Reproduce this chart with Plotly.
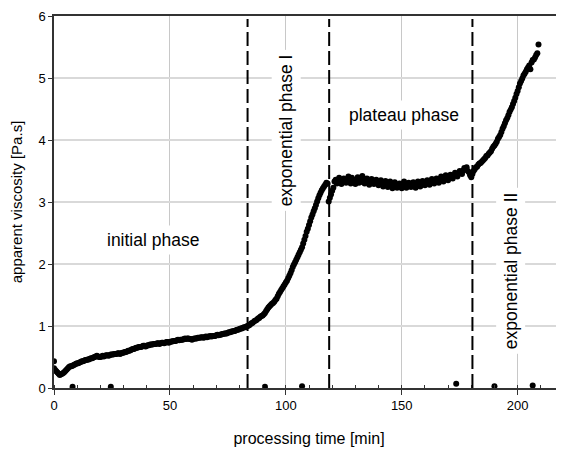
import plotly.graph_objects as go

# sampling times [min] (whole minutes)
minutes = list(range(0, 210))

# apparent viscosity [Pa.s] at whole minutes
viscosity = [
    0.32, 0.27, 0.23, 0.22, 0.24, 0.28, 0.32, 0.35, 0.36, 0.38,
    0.40, 0.41, 0.43, 0.44, 0.45, 0.46, 0.48, 0.49, 0.51, 0.51,
    0.50, 0.52, 0.52, 0.53, 0.53, 0.54, 0.55, 0.55, 0.56, 0.56,
    0.57, 0.58, 0.60, 0.61, 0.63, 0.64, 0.65, 0.66, 0.67, 0.68,
    0.68, 0.69, 0.70, 0.71, 0.71, 0.72, 0.72, 0.73, 0.73, 0.74,
    0.74, 0.75, 0.76, 0.77, 0.77, 0.78, 0.79, 0.79, 0.80, 0.79,
    0.79, 0.80, 0.81, 0.81, 0.82, 0.82, 0.82, 0.83, 0.83, 0.84,
    0.85, 0.85, 0.86, 0.87, 0.88, 0.89, 0.90, 0.91, 0.92, 0.94,
    0.95, 0.96, 0.98, 0.99, 1.01, 1.04, 1.06, 1.09, 1.12, 1.15,
    1.17, 1.21, 1.27, 1.32, 1.36, 1.39, 1.44, 1.52, 1.58, 1.64,
    1.70, 1.77, 1.85, 1.95, 2.03, 2.11, 2.19, 2.27, 2.39, 2.52,
    2.63, 2.75, 2.85, 2.95, 3.06, 3.15, 3.22, 3.28, 3.30, 3.07,
    3.18, 3.33, 3.30, 3.39, 3.29, 3.38, 3.31, 3.41, 3.30, 3.36,
    3.29, 3.40, 3.32, 3.42, 3.30, 3.38, 3.28, 3.37, 3.29, 3.36,
    3.27, 3.35, 3.25, 3.34, 3.24, 3.33, 3.22, 3.32, 3.23, 3.30,
    3.22, 3.33, 3.23, 3.31, 3.24, 3.32, 3.23, 3.33, 3.25, 3.34,
    3.27, 3.35, 3.28, 3.37, 3.30, 3.38, 3.31, 3.41, 3.33, 3.43,
    3.35, 3.44, 3.38, 3.47, 3.41, 3.50, 3.45, 3.55, 3.56, 3.48,
    3.40, 3.50, 3.56, 3.60, 3.63, 3.67, 3.71, 3.75, 3.80, 3.86,
    3.91, 3.97, 4.05, 4.13, 4.22, 4.32, 4.40, 4.49, 4.58, 4.68,
    4.79, 4.91, 4.99, 5.07, 5.14, 5.20, 5.25, 5.30, 5.37, 5.54,
]

# sampling times [min] (half minutes)
half_minutes = [m + 0.5 for m in range(0, 209)]

# apparent viscosity [Pa.s] at half minutes
half_viscosity = [
    0.29, 0.25, 0.21, 0.23, 0.26, 0.30, 0.34, 0.35, 0.37, 0.39,
    0.40, 0.42, 0.43, 0.45, 0.46, 0.47, 0.48, 0.50, 0.52, 0.50,
    0.51, 0.51, 0.53, 0.52, 0.54, 0.54, 0.55, 0.56, 0.55, 0.57,
    0.58, 0.59, 0.60, 0.62, 0.63, 0.65, 0.66, 0.66, 0.68, 0.67,
    0.69, 0.70, 0.70, 0.71, 0.72, 0.71, 0.73, 0.72, 0.74, 0.73,
    0.75, 0.76, 0.76, 0.78, 0.78, 0.78, 0.80, 0.80, 0.79, 0.78,
    0.80, 0.80, 0.81, 0.82, 0.81, 0.83, 0.83, 0.84, 0.84, 0.84,
    0.86, 0.86, 0.87, 0.88, 0.88, 0.90, 0.91, 0.92, 0.93, 0.94,
    0.96, 0.97, 0.98, 1.00, 1.02, 1.05, 1.08, 1.10, 1.13, 1.16,
    1.19, 1.24, 1.30, 1.34, 1.37, 1.42, 1.48, 1.55, 1.61, 1.67,
    1.73, 1.81, 1.90, 1.99, 2.07, 2.15, 2.23, 2.33, 2.45, 2.57,
    2.69, 2.80, 2.90, 3.01, 3.11, 3.19, 3.25, 3.31, 3.01, 3.12,
    3.23, 3.36, 3.32, 3.35, 3.33, 3.36, 3.34, 3.32, 3.39, 3.33,
    3.35, 3.31, 3.36, 3.34, 3.37, 3.31, 3.33, 3.35, 3.31, 3.32,
    3.30, 3.31, 3.29, 3.28, 3.30, 3.27, 3.29, 3.26, 3.28, 3.27,
    3.26, 3.28, 3.27, 3.26, 3.29, 3.27, 3.29, 3.28, 3.30, 3.29,
    3.31, 3.32, 3.33, 3.33, 3.35, 3.34, 3.37, 3.36, 3.39, 3.38,
    3.41, 3.42, 3.43, 3.45, 3.46, 3.48, 3.51, 3.53, 3.50, 3.43,
    3.45, 3.53, 3.57, 3.62, 3.65, 3.69, 3.74, 3.78, 3.82, 3.89,
    3.94, 4.02, 4.08, 4.18, 4.27, 4.35, 4.45, 4.53, 4.63, 4.74,
    4.85, 4.95, 5.04, 5.10, 5.17, 5.14, 5.29, 5.33, 5.40,
]

# stray readings
stray_minutes = [0, 8, 24.5, 91, 107, 173.5, 190, 206.5]
stray_viscosity = [0.43, 0.02, 0.02, 0.02, 0.03, 0.07, 0.03, 0.04]

# phase boundaries [min]
phase_bounds = [83.5, 118.7, 180.5]

# phase labels: (text, x, y, angle)
phase_labels = [
    ("initial phase", 42.6, 2.39, 0),
    ("exponential phase I", 100.2, 4.16, -90),
    ("plateau phase", 150.9, 4.40, 0),
    ("exponential phase II", 196.9, 1.89, -90),
]

FONT = "Liberation Sans, Arial, sans-serif"
AXIS = "#333333"

fig = go.Figure()
fig.add_trace(go.Scatter(
    x=minutes + half_minutes + stray_minutes,
    y=viscosity + half_viscosity + stray_viscosity,
    mode="markers",
    marker=dict(color="black", size=6, line=dict(width=0)),
    showlegend=False,
))

for xb in phase_bounds:
    fig.add_shape(type="line", xref="x", yref="y", x0=xb, x1=xb, y0=0, y1=5.95,
                  line=dict(color="black", width=2, dash="14px,5px"))

for text, x, y, ang in phase_labels:
    fig.add_annotation(x=x, y=y, xref="x", yref="y", text=text, showarrow=False,
                       textangle=ang, bgcolor="white", borderpad=4,
                       font=dict(family=FONT, size=17.5, color="black"))

fig.update_layout(
    width=556, height=443,
    margin=dict(l=46, r=0, t=8, b=63),
    paper_bgcolor="white", plot_bgcolor="white",
    font=dict(family=FONT, size=13, color="black"),
)
fig.update_xaxes(
    range=[0, 220], tickvals=[0, 50, 100, 150, 200],
    showline=True, linecolor=AXIS, linewidth=1.5, mirror=True,
    ticks="outside", ticklen=5, tickcolor=AXIS,
    showgrid=True, gridcolor="#c8c8c8", gridwidth=1, zeroline=False,
    minor=dict(dtick=10, ticks="inside", ticklen=3, tickcolor=AXIS, showgrid=False),
    title=dict(text="processing time [min]", font=dict(size=16), standoff=20),
    tickfont=dict(size=13), automargin=False,
)
fig.update_yaxes(
    range=[0, 6], tickvals=[0, 1, 2, 3, 4, 5, 6],
    showline=True, linecolor=AXIS, linewidth=1.5,
    ticks="outside", ticklen=4, tickcolor=AXIS,
    showgrid=True, gridcolor="#d9d9d9", gridwidth=1.5, zeroline=False,
    title=dict(text="apparent viscosity [Pa.s]", font=dict(size=15), standoff=14),
    tickfont=dict(size=13), automargin=False,
)

fig.write_html("out.html")
